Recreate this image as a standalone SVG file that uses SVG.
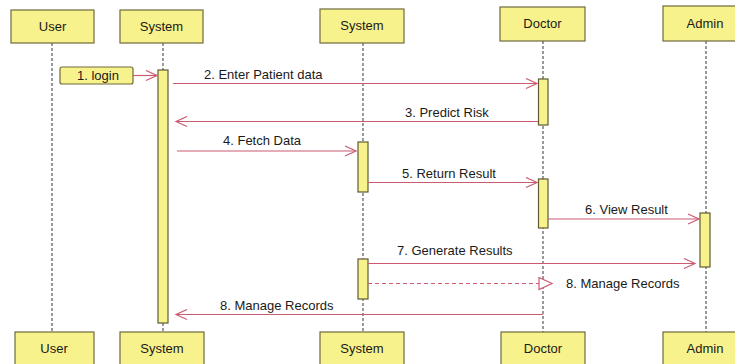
<svg xmlns="http://www.w3.org/2000/svg" width="735" height="364" viewBox="0 0 735 364">
  <style>
    .box { fill: #f8f28c; stroke: #6e6a3c; stroke-width: 1.2; }
    .act { fill: #f8f28c; stroke: #5e5a32; stroke-width: 1.2; }
    .life { stroke: #55555f; stroke-width: 1.2; stroke-dasharray: 3 2; fill: none; }
    .msg { stroke: #cc5a70; stroke-width: 1.2; fill: none; }
    .dash { stroke-dasharray: 4 3; }
    .lbl { font-family: "Liberation Sans", Arial, sans-serif; font-size: 13px; fill: #1a1a1a; }
    .name { font-family: "Liberation Sans", Arial, sans-serif; font-size: 13px; fill: #1a1a1a; text-anchor: middle; }
  </style>
  <defs>
    <marker id="open" markerWidth="14" markerHeight="12" refX="12" refY="6" orient="auto" markerUnits="userSpaceOnUse">
      <path d="M1,1 L12,6 L1,11" fill="none" stroke="#cc5a70" stroke-width="1.2"/>
    </marker>
    <marker id="hollow" markerWidth="16" markerHeight="14" refX="14" refY="7" orient="auto" markerUnits="userSpaceOnUse">
      <path d="M1,1 L14,7 L1,13 Z" fill="#ffffff" stroke="#cc5a70" stroke-width="1.2"/>
    </marker>
  </defs>
  <rect width="735" height="364" fill="#ffffff"/>

  <!-- lifelines -->
  <g id="lifelines">
    <line class="life" x1="52" y1="43" x2="52" y2="332"/>
    <line class="life" x1="163" y1="43" x2="163" y2="332"/>
    <line class="life" x1="363" y1="43" x2="363" y2="332"/>
    <line class="life" x1="543" y1="41" x2="543" y2="332"/>
    <line class="life" x1="706" y1="41" x2="706" y2="332"/>
  </g>

  <!-- participants (top) -->
  <g id="user-top"><rect class="box" x="11" y="10" width="83" height="33"/><text class="name" x="52.5" y="31">User</text></g>
  <g id="system-top"><rect class="box" x="120" y="10" width="83" height="33"/><text class="name" x="161.5" y="31">System</text></g>
  <g id="system2-top"><rect class="box" x="320" y="9" width="84" height="34"/><text class="name" x="362" y="30">System</text></g>
  <g id="doctor-top"><rect class="box" x="500" y="7" width="85" height="34"/><text class="name" x="542.5" y="28">Doctor</text></g>
  <g id="admin-top"><rect class="box" x="663" y="6" width="84" height="35"/><text class="name" x="705" y="28">Admin</text></g>

  <!-- participants (bottom) -->
  <g id="user-bottom"><rect class="box" x="15" y="332" width="79" height="36"/><text class="name" x="54" y="353">User</text></g>
  <g id="system-bottom"><rect class="box" x="120" y="332" width="84" height="36"/><text class="name" x="162" y="353">System</text></g>
  <g id="system2-bottom"><rect class="box" x="320" y="332" width="84" height="36"/><text class="name" x="362" y="353">System</text></g>
  <g id="doctor-bottom"><rect class="box" x="501" y="332" width="84" height="36"/><text class="name" x="543" y="353">Doctor</text></g>
  <g id="admin-bottom"><rect class="box" x="663" y="332" width="84" height="36"/><text class="name" x="705" y="353">Admin</text></g>

  <!-- activations -->
  <g id="activations">
    <rect class="act" x="158" y="70" width="10" height="253"/>
    <rect class="act" x="538.5" y="79" width="9.5" height="46"/>
    <rect class="act" x="358" y="142" width="10" height="50"/>
    <rect class="act" x="538.5" y="179" width="9.5" height="49"/>
    <rect class="act" x="700" y="213" width="10" height="54"/>
    <rect class="act" x="358" y="259" width="10" height="40"/>
  </g>

  <!-- login trigger -->
  <g id="login">
    <rect class="box" x="60" y="67" width="73" height="17" rx="2"/>
    <text class="lbl" x="77" y="80">1. login</text>
  </g>

  <!-- messages -->
  <g id="connectors">
    <line class="msg" x1="133" y1="75.5" x2="157" y2="75.5" marker-end="url(#open)"/>
    <line class="msg" x1="173" y1="83.5" x2="537" y2="83.5" marker-end="url(#open)"/>
    <line class="msg" x1="538" y1="121.5" x2="176" y2="121.5" marker-end="url(#open)"/>
    <line class="msg" x1="177" y1="151" x2="356" y2="151" marker-end="url(#open)"/>
    <line class="msg" x1="368" y1="182.5" x2="537" y2="182.5" marker-end="url(#open)"/>
    <line class="msg" x1="548" y1="219" x2="699" y2="219" marker-end="url(#open)"/>
    <line class="msg" x1="368" y1="263.5" x2="695" y2="263.5" marker-end="url(#open)"/>
    <line class="msg dash" x1="368" y1="283.5" x2="552" y2="283.5" marker-end="url(#hollow)"/>
    <line class="msg" x1="543" y1="314.5" x2="176" y2="314.5" marker-end="url(#open)"/>
  </g>

  <!-- message labels -->
  <g id="labels">
    <text class="lbl" x="204" y="79">2. Enter Patient data</text>
    <text class="lbl" x="405" y="117">3. Predict Risk</text>
    <text class="lbl" x="223" y="145">4. Fetch Data</text>
    <text class="lbl" x="402" y="178">5. Return Result</text>
    <text class="lbl" x="585" y="214">6. View Result</text>
    <text class="lbl" x="397" y="255">7. Generate Results</text>
    <text class="lbl" x="566" y="288">8. Manage Records</text>
    <text class="lbl" x="220" y="310">8. Manage Records</text>
  </g>
</svg>
